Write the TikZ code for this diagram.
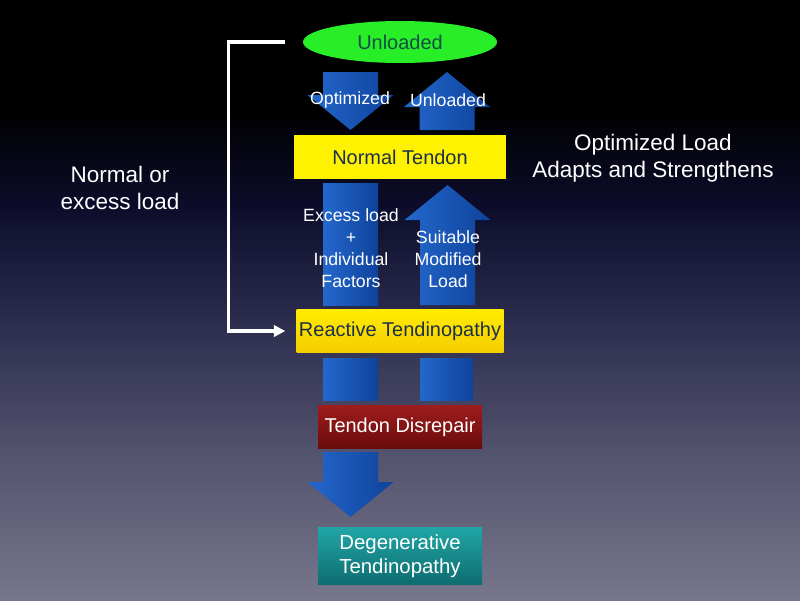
\documentclass[tikz,border=0pt]{standalone}
\usepackage{fontspec}
\setmainfont{Liberation Sans}
\usetikzlibrary{shapes.geometric,arrows.meta,calc}

\definecolor{bgbot}{RGB}{118,118,140}
\definecolor{bglow}{RGB}{82,82,110}
\definecolor{bgmid}{RGB}{38,38,72}
\definecolor{bghi}{RGB}{12,12,42}
\definecolor{arrleft}{RGB}{36,104,204}
\definecolor{arrright}{RGB}{14,66,156}
\definecolor{limefill}{RGB}{40,238,40}
\definecolor{tealtext}{RGB}{15,80,70}
\definecolor{slatetext}{RGB}{28,48,72}
\definecolor{yellowtop}{RGB}{255,236,0}
\definecolor{yellowbot}{RGB}{245,205,0}
\definecolor{redtop}{RGB}{158,28,28}
\definecolor{redbot}{RGB}{105,12,12}
\definecolor{cyantop}{RGB}{34,165,165}
\definecolor{cyanbot}{RGB}{14,108,112}

\pgfdeclareverticalshading{slidebg}{100bp}{color(0bp)=(bgbot); color(25bp)=(bgbot); color(37.5bp)=(bglow); color(50bp)=(bgmid); color(58bp)=(bghi); color(66bp)=(black); color(100bp)=(black)}

\newcommand\pxu{0.025cm}
\newcommand\boxfont{\fontsize{14.2}{17}\selectfont}
\newcommand\sidefont{\fontsize{16}{19.2}\selectfont}
\newcommand\arrfont{\fontsize{12.6}{15.6}\selectfont}

\tikzset{
	arrowfill/.style={left color=arrleft, right color=arrright},
	stagebox/.style={inner sep=0pt, font=\boxfont, align=center},
	arrlabel/.style={text=white, font=\arrfont, align=center, inner sep=0pt},
	sidelabel/.style={text=white, font=\sidefont, align=center, inner sep=0pt},
	bracket/.style={draw=white, line width=2.2pt, -{Triangle[length=8pt,width=8pt]}}
}

% block arrow: centre x, tail y, head base y, tip y
\newcommand\blkarrow[4]{%
	\shade[arrowfill] (#1-27.5,#2) -- (#1+27.5,#2) -- (#1+27.5,#3) -- (#1+43,#3) -- (#1,#4)
		-- (#1-43,#3) -- (#1-27.5,#3) -- cycle;}

\begin{document}
\begin{tikzpicture}[x=\pxu,y=-\pxu]
	\useasboundingbox (0,0) rectangle (800,600);
	\shade[shading=slidebg] (0,0) rectangle (800,600);
	%
	\blkarrow{350.5}{72}{95}{130}
	\blkarrow{447}{130}{107}{72}
	\shade[arrowfill] (323,183) rectangle (378,305);
	\blkarrow{447.5}{305}{220}{185}
	\shade[arrowfill] (323,358) rectangle (378,400);
	\shade[arrowfill] (420,358) rectangle (473,400);
	\blkarrow{350.5}{452}{482}{517}
	%
	\node[ellipse, fill=limefill, inner sep=0pt, minimum width=194*\pxu, minimum height=42*\pxu,
		text=tealtext, font=\boxfont] (un) at (400,42) {Unloaded};
	\node[stagebox, fill=yellow, text=slatetext, minimum width=212*\pxu, minimum height=44*\pxu] (nt) at (400,157) {Normal Tendon};
	\node[stagebox, top color=yellowtop, bottom color=yellowbot, text=slatetext, minimum width=207*\pxu, minimum height=43*\pxu] (rt) at (400,331) {Reactive Tendinopathy};
	\node[stagebox, top color=redtop, bottom color=redbot, text=white, minimum width=164*\pxu, minimum height=43*\pxu] (td) at (400,427) {Tendon Disrepair};
	\node[stagebox, top color=cyantop, bottom color=cyanbot, text=white, minimum width=164*\pxu, minimum height=57*\pxu,
		font=\fontsize{14.5}{17}\selectfont] (dt) at (400,556) {Degenerative\\Tendinopathy};
	%
	\node[arrlabel] (opt) at (350,100) {Optimized};
	\node[arrlabel] (unl) at (448,100) {Unloaded};
	\node[arrlabel] (exc) at (351,248) {Excess load\\+\\Individual\\Factors};
	\node[arrlabel] (suit) at (448,259) {Suitable\\Modified\\Load};
	%
	\node[sidelabel] (norm) at (120,188) {Normal or\\excess load};
	\node[sidelabel] (adapt) at (653,158) {Optimized Load\\Adapts and Strengthens};
	%
	\draw[bracket] ($(un.west)+(-18,0)$) -- ++(-56,0) |- ($(rt.west)+(-11,0)$);
\end{tikzpicture}
\end{document}
